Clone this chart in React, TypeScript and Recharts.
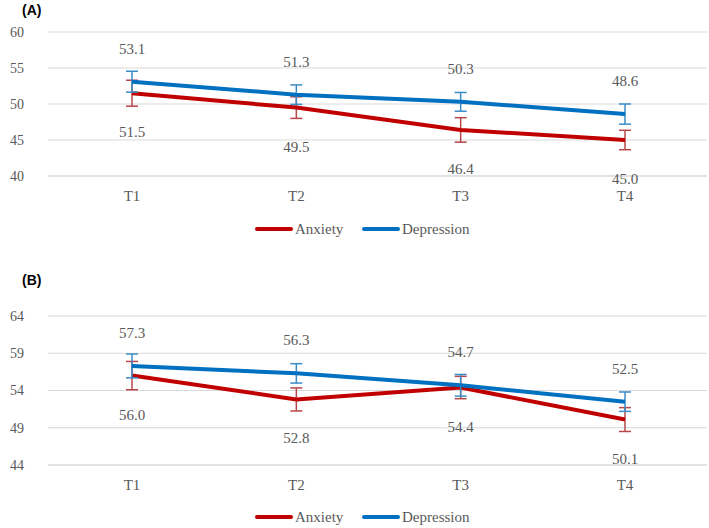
import React from "react";
import { LineChart, Line, XAxis, YAxis, CartesianGrid, ErrorBar, LabelList } from "recharts";

const times = ["T1", "T2", "T3", "T4"];

// Panel A
const anxietyA = [51.5, 49.5, 46.4, 45.0];
const depressionA = [53.1, 51.3, 50.3, 48.6];
const anxietyErrA = [1.8, 1.5, 1.7, 1.35];
const depressionErrA = [1.45, 1.35, 1.3, 1.4];
const ticksA = [40, 45, 50, 55, 60];

// Panel B
const anxietyB = [56.0, 52.8, 54.4, 50.1];
const depressionB = [57.3, 56.3, 54.7, 52.5];
const anxietyErrB = [1.9, 1.55, 1.5, 1.6];
const depressionErrB = [1.6, 1.3, 1.45, 1.3];
const ticksB = [44, 49, 54, 59, 64];

const RED = "#C00000";
const BLUE = "#0070C0";
const RED_ERR = "#B8474A";
const BLUE_ERR = "#3A8CC6";
const GRAY = "#595959";
const SERIF = "'Liberation Serif', 'Times New Roman', serif";

const makeLabel = (dy: number) => (props: any) => {
  const { x, y, value } = props;
  return (
    <text x={x} y={y + dy} textAnchor="middle" dominantBaseline="central" fill={GRAY} fontSize={15} fontFamily={SERIF}>
      {Number(value).toFixed(1)}
    </text>
  );
};

function Legend({ top }: { top: number }) {
  const item = (color: string, label: string, left: number) => (
    <div style={{ position: "absolute", left, top: 0, display: "flex", alignItems: "center", height: 16 }}>
      <div style={{ width: 38, height: 4, background: color, borderRadius: 2 }} />
      <span style={{ marginLeft: 2, color: GRAY, fontFamily: SERIF, fontSize: 15 }}>{label}</span>
    </div>
  );
  return (
    <div style={{ position: "absolute", top, left: 0, width: 709, height: 16 }}>
      {item(RED, "Anxiety", 255)}
      {item(BLUE, "Depression", 362)}
    </div>
  );
}

function Panel({
  title, top, height, marginTop, marginBottom, anxiety, depression, anxErr, depErr, ticks, legendTop,
}: {
  title: string; top: number; height: number; marginTop: number; marginBottom: number;
  anxiety: number[]; depression: number[]; anxErr: number[]; depErr: number[]; ticks: number[]; legendTop: number;
}) {
  const data = times.map((t, i) => ({
    name: t,
    anxiety: anxiety[i],
    depression: depression[i],
    anxErr: anxErr[i],
    depErr: depErr[i],
  }));
  return (
    <div style={{ position: "absolute", top, left: 0, width: 709, height }}>
      <div style={{ position: "absolute", left: 22, top: 2, fontFamily: "'Liberation Sans', Arial, sans-serif", fontWeight: 700, fontSize: 14, color: "#000" }}>
        {title}
      </div>
      <LineChart width={709} height={height} data={data} margin={{ top: marginTop, right: 2, bottom: marginBottom, left: 0 }}>
        <CartesianGrid vertical={false} stroke="#D9D9D9" />
        <XAxis
          dataKey="name"
          padding={{ left: 84, right: 82 }}
          axisLine={{ stroke: "#D9D9D9" }}
          tickLine={false}
          tickSize={0}
          tickMargin={14}
          tick={{ fill: GRAY, fontSize: 15, fontFamily: SERIF }}
        />
        <YAxis
          width={48}
          domain={[ticks[0], ticks[ticks.length - 1]]}
          ticks={ticks}
          axisLine={false}
          tickLine={false}
          tickSize={0}
          tickMargin={24}
          tick={{ fill: GRAY, fontSize: 14, fontFamily: SERIF }}
        />
        <Line type="linear" dataKey="anxiety" stroke={RED} strokeWidth={4} dot={false} isAnimationActive={false}>
          <ErrorBar dataKey="anxErr" width={6} stroke={RED_ERR} strokeWidth={1.5} direction="y" />
          <LabelList dataKey="anxiety" content={makeLabel(39)} />
        </Line>
        <Line type="linear" dataKey="depression" stroke={BLUE} strokeWidth={4} dot={false} isAnimationActive={false}>
          <ErrorBar dataKey="depErr" width={6} stroke={BLUE_ERR} strokeWidth={1.5} direction="y" />
          <LabelList dataKey="depression" content={makeLabel(-33)} />
        </Line>
      </LineChart>
      <Legend top={legendTop} />
    </div>
  );
}

export default function App() {
  return (
    <div style={{ position: "absolute", top: 0, left: 0, width: 709, height: 528, background: "#fff" }}>
      <Panel
        title="(A)"
        top={0}
        height={250}
        marginTop={32}
        marginBottom={44}
        anxiety={anxietyA}
        depression={depressionA}
        anxErr={anxietyErrA}
        depErr={depressionErrA}
        ticks={ticksA}
        legendTop={221}
      />
      <Panel
        title="(B)"
        top={270}
        height={258}
        marginTop={46}
        marginBottom={33}
        anxiety={anxietyB}
        depression={depressionB}
        anxErr={anxietyErrB}
        depErr={depressionErrB}
        ticks={ticksB}
        legendTop={239}
      />
    </div>
  );
}
